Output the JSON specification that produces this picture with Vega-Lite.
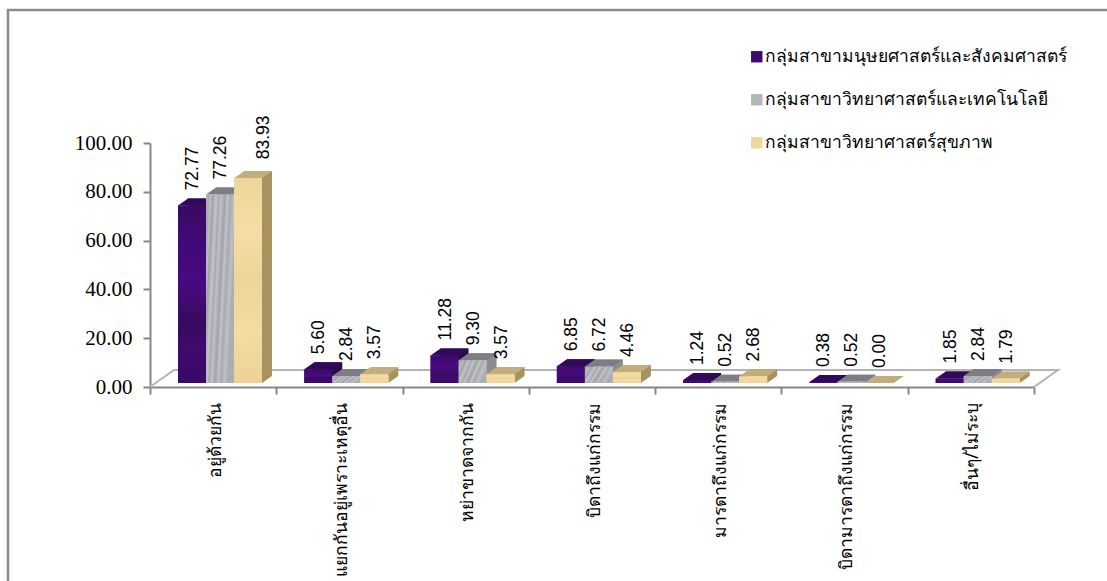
{
"$schema":"https://vega.github.io/schema/vega-lite/v6.json",
"autosize":"none",
"padding":{"left":8,"top":10,"right":0,"bottom":0},
"width":1112,
"height":600,
"background":"white",
"view":{"stroke":"#8c8c8c","strokeWidth":2.5,"fill":"white"},
"data":{"values":[
{"cat":"อยู่ด้วยกัน","group":"กลุ่มสาขามนุษยศาสตร์และสังคมศาสตร์","value":72.77},
{"cat":"อยู่ด้วยกัน","group":"กลุ่มสาขาวิทยาศาสตร์และเทคโนโลยี","value":77.26},
{"cat":"อยู่ด้วยกัน","group":"กลุ่มสาขาวิทยาศาสตร์สุขภาพ","value":83.93},
{"cat":"แยกกันอยู่เพราะเหตุอื่น","group":"กลุ่มสาขามนุษยศาสตร์และสังคมศาสตร์","value":5.60},
{"cat":"แยกกันอยู่เพราะเหตุอื่น","group":"กลุ่มสาขาวิทยาศาสตร์และเทคโนโลยี","value":2.84},
{"cat":"แยกกันอยู่เพราะเหตุอื่น","group":"กลุ่มสาขาวิทยาศาสตร์สุขภาพ","value":3.57},
{"cat":"หย่าขาดจากกัน","group":"กลุ่มสาขามนุษยศาสตร์และสังคมศาสตร์","value":11.28},
{"cat":"หย่าขาดจากกัน","group":"กลุ่มสาขาวิทยาศาสตร์และเทคโนโลยี","value":9.30},
{"cat":"หย่าขาดจากกัน","group":"กลุ่มสาขาวิทยาศาสตร์สุขภาพ","value":3.57},
{"cat":"บิดาถึงแก่กรรม","group":"กลุ่มสาขามนุษยศาสตร์และสังคมศาสตร์","value":6.85},
{"cat":"บิดาถึงแก่กรรม","group":"กลุ่มสาขาวิทยาศาสตร์และเทคโนโลยี","value":6.72},
{"cat":"บิดาถึงแก่กรรม","group":"กลุ่มสาขาวิทยาศาสตร์สุขภาพ","value":4.46},
{"cat":"มารดาถึงแก่กรรม","group":"กลุ่มสาขามนุษยศาสตร์และสังคมศาสตร์","value":1.24},
{"cat":"มารดาถึงแก่กรรม","group":"กลุ่มสาขาวิทยาศาสตร์และเทคโนโลยี","value":0.52},
{"cat":"มารดาถึงแก่กรรม","group":"กลุ่มสาขาวิทยาศาสตร์สุขภาพ","value":2.68},
{"cat":"บิดามารดาถึงแก่กรรม","group":"กลุ่มสาขามนุษยศาสตร์และสังคมศาสตร์","value":0.38},
{"cat":"บิดามารดาถึงแก่กรรม","group":"กลุ่มสาขาวิทยาศาสตร์และเทคโนโลยี","value":0.52},
{"cat":"บิดามารดาถึงแก่กรรม","group":"กลุ่มสาขาวิทยาศาสตร์สุขภาพ","value":0.00},
{"cat":"อื่นๆ/ไม่ระบุ","group":"กลุ่มสาขามนุษยศาสตร์และสังคมศาสตร์","value":1.85},
{"cat":"อื่นๆ/ไม่ระบุ","group":"กลุ่มสาขาวิทยาศาสตร์และเทคโนโลยี","value":2.84},
{"cat":"อื่นๆ/ไม่ระบุ","group":"กลุ่มสาขาวิทยาศาสตร์สุขภาพ","value":1.79}
]},
"encoding":{
"x":{"field":"cat","type":"nominal","sort":null,"title":null,
"scale":{"domain":["อยู่ด้วยกัน","แยกกันอยู่เพราะเหตุอื่น","หย่าขาดจากกัน","บิดาถึงแก่กรรม","มารดาถึงแก่กรรม","บิดามารดาถึงแก่กรรม","อื่นๆ/ไม่ระบุ"],"range":[142,1026],"paddingInner":0,"paddingOuter":0},
"axis":{"tickBand":"extent","offset":-223,"domainColor":"#868686","domainWidth":2,"tickColor":"#868686","tickWidth":2,"tickSize":7,"labelAngle":-90,"labelAlign":"right","labelBaseline":"middle","labelFont":"Noto Sans","labelFontSize":17.5,"labelColor":"#000000","labelPadding":8,"labelLimit":300,"labelOffset":2,"labelOverlap":false,"grid":false}},
"xOffset":{"field":"group","type":"nominal","sort":null,"scale":{"domain":["กลุ่มสาขามนุษยศาสตร์และสังคมศาสตร์","กลุ่มสาขาวิทยาศาสตร์และเทคโนโลยี","กลุ่มสาขาวิทยาศาสตร์สุขภาพ"],"range":[28,112]}},
"y":{"field":"value","type":"quantitative","title":null,
"scale":{"domain":[0,100],"range":[377,133],"nice":false},
"axis":{"values":[0,20,40,60,80,100],"format":".2f","offset":-142,"domainColor":"#868686","domainWidth":2,"tickColor":"#868686","tickWidth":2,"tickSize":7,"labelFont":"Liberation Serif","labelFontSize":21,"labelColor":"#000000","labelPadding":11,"grid":false}}
},
"layer":[
{"data":{"values":[{"cat":"บิดาถึงแก่กรรม","value":0}]},
 "mark":{"type":"point","filled":false,"size":781456,"opacity":1,"stroke":"#b4b4b4","strokeWidth":2,"shape":"M-1 0L-0.9457 -0.0385L1.0543 -0.0385L1 0"},
 "encoding":{"xOffset":null}},
{"mark":{"type":"bar","yOffset":-11,"y2Offset":-11},
 "encoding":{"xOffset":{"field":"group","type":"nominal","sort":null,"scale":{"domain":["กลุ่มสาขามนุษยศาสตร์และสังคมศาสตร์","กลุ่มสาขาวิทยาศาสตร์และเทคโนโลยี","กลุ่มสาขาวิทยาศาสตร์สุขภาพ"],"range":[38,122]}},"color":{"field":"group","type":"nominal","sort":null,"legend":null,"scale":{"range":["#2a0a4c","#8a8c92","#a8925f"]}},"y2":{"datum":0}}},
{"mark":{"type":"point","filled":true,"size":784,"opacity":1,"strokeWidth":0,"yOffset":-4,"shape":"M1 0L1.714 -0.5L1 -0.5Z"},
 "encoding":{"y":{"datum":0},"color":{"field":"group","type":"nominal","sort":null,"legend":null,"scale":{"range":["#2a0a4c","#8a8c92","#a8925f"]}}}},
{"mark":{"type":"point","filled":true,"size":784,"opacity":1,"strokeWidth":0,"yOffset":-4,"shape":"M-1 0L1 0L1.714 -0.5L-0.286 -0.5Z"},
 "encoding":{"color":{"field":"group","type":"nominal","sort":null,"legend":null,"scale":{"range":["#300a58","#7c7e86","#c4ad7c"]}}}},
{"mark":{"type":"bar","yOffset":-4,"y2Offset":-4},
 "encoding":{"y2":{"datum":0},"color":{"field":"group","type":"nominal","sort":null,"title":null,
  "scale":{"range":["#41096f","#b4b6bc","#f0d79b"]},
  "legend":{"orient":"none","legendX":740,"legendY":38,"symbolType":"square","symbolSize":130,"symbolStrokeWidth":0,"labelFont":"Noto Sans","labelFontSize":17.5,"labelColor":"#000000","labelLimit":400,"labelOffset":-1,"rowPadding":24,"symbolOpacity":1}}}},
{"transform":[{"filter":"datum.group=='กลุ่มสาขามนุษยศาสตร์และสังคมศาสตร์'"}],
 "mark":{"type":"bar","yOffset":-4,"y2Offset":-4,"fill":{"gradient":"linear","x1":0,"y1":0,"x2":0,"y2":1,"stops":[{"offset":0,"color":"#3a0a66"},{"offset":0.25,"color":"#42097a"},{"offset":0.45,"color":"#480a80"},{"offset":0.65,"color":"#380a60"},{"offset":0.82,"color":"#400a70"},{"offset":1,"color":"#380a64"}]}},
 "encoding":{"y2":{"datum":0}}},
{"transform":[{"filter":"datum.group=='กลุ่มสาขาวิทยาศาสตร์และเทคโนโลยี'"}],
 "mark":{"type":"bar","yOffset":-4,"y2Offset":-4,"fill":{"gradient":"linear","x1":0,"y1":0,"x2":1,"y2":0.35,"stops":[{"offset":0,"color":"#c0c2c7"},{"offset":0.07,"color":"#a4a6ac"},{"offset":0.16,"color":"#bcbec3"},{"offset":0.21,"color":"#9ea0a6"},{"offset":0.33,"color":"#c2c4c9"},{"offset":0.42,"color":"#a6a8ae"},{"offset":0.48,"color":"#c0c2c6"},{"offset":0.61,"color":"#a0a2a8"},{"offset":0.69,"color":"#c2c4c8"},{"offset":0.78,"color":"#a8aab0"},{"offset":0.9,"color":"#bec0c5"},{"offset":1,"color":"#acaeb3"}]}},
 "encoding":{"y2":{"datum":0}}},
{"transform":[{"filter":"datum.group=='กลุ่มสาขาวิทยาศาสตร์สุขภาพ'"}],
 "mark":{"type":"bar","yOffset":-4,"y2Offset":-4,"fill":{"gradient":"linear","x1":0,"y1":0,"x2":0,"y2":1,"stops":[{"offset":0,"color":"#efd598"},{"offset":0.25,"color":"#f4dda6"},{"offset":0.5,"color":"#eed49a"},{"offset":0.75,"color":"#f3dba2"},{"offset":1,"color":"#edd294"}]}},
 "encoding":{"y2":{"datum":0}}},
{"transform":[{"filter":"datum.value!=83.93"}],
 "mark":{"type":"text","angle":270,"align":"left","baseline":"middle","dx":19,"dy":1,"font":"Liberation Sans","fontSize":17.5,"color":"#000000"},
 "encoding":{"text":{"field":"value","type":"quantitative","format":".2f"}}},
{"transform":[{"filter":"datum.value==83.93"}],
 "mark":{"type":"text","angle":270,"align":"left","baseline":"middle","dx":23,"dy":16,"font":"Liberation Sans","fontSize":17.5,"color":"#000000"},
 "encoding":{"text":{"field":"value","type":"quantitative","format":".2f"}}}
],
"resolve":{"scale":{"color":"independent","xOffset":"independent"}}
}
